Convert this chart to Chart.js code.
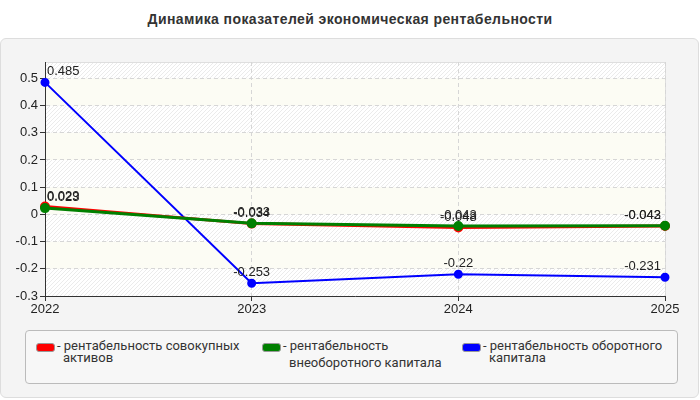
<!DOCTYPE html>
<html>
<head>
<meta charset="utf-8">
<script src="https://cdn.jsdelivr.net/npm/chart.js@4/dist/chart.umd.min.js"></script>
<style>
  body { margin:0; background:#fff; font-family:"Liberation Sans", Arial, sans-serif; }
  #wrap { position:relative; width:700px; height:400px; overflow:hidden; }
  #title { position:absolute; left:0; top:11px; width:700px; text-align:center; font-weight:bold; font-size:14px; letter-spacing:0.4px; color:#333; }
  #panel { position:absolute; left:0; top:38px; width:697px; height:358px; background:#f4f4f4; border:1px solid #ddd; border-radius:6px; }
  #chart { position:absolute; left:0; top:0; }
  #legend { position:absolute; left:25px; top:330px; width:651px; height:52px; border:1px solid #bbb; border-radius:4px; background:#f7f7f7; }
  .item { position:absolute; top:9px; font-family:Roboto, sans-serif; font-size:13px; color:#333; line-height:12px; }
  .sw { position:absolute; left:0; top:3px; width:17px; height:7px; border:1px solid #999; border-radius:3px; }
  .txt { position:absolute; left:21px; top:0; white-space:nowrap; }
</style>
</head>
<body>
<div id="wrap">
  <div id="title">Динамика показателей экономическая рентабельности</div>
  <div id="panel"></div>
  <canvas id="chart" width="700" height="400"></canvas>
  <div id="legend"></div>
</div>
<script>
// data
const years = ['2022', '2023', '2024', '2025'];
const totalAssets = [0.029, -0.034, -0.048, -0.043];
const fixedCapital = [0.023, -0.033, -0.043, -0.042];
const workingCapital = [0.485, -0.253, -0.22, -0.231];
const seriesNames = [
  ['- рентабельность совокупных', 'активов'],
  ['- рентабельность', 'внеоборотного капитала'],
  ['- рентабельность оборотного', 'капитала']
];
const seriesColors = ['#ff0000', '#008000', '#0000ff'];

// legend as html so the text can wrap like the original
const legendX = [10, 236, 436];
const legend = document.getElementById('legend');
seriesNames.forEach((lines, i) => {
  const d = document.createElement('div');
  d.className = 'item';
  d.style.left = legendX[i] + 'px';
  const second = i === 1
    ? '<span style="display:inline-block;margin-top:5px;margin-left:6px">' + lines[1] + '</span>'
    : '<span style="margin-left:6px">' + lines[1] + '</span>';
  d.innerHTML = '<div class="sw" style="background:' + seriesColors[i] + '"></div>' +
    '<div class="txt">' + lines[0] + '<br>' + second + '</div>';
  legend.appendChild(d);
});

function hatch() {
  const c = document.createElement('canvas');
  c.width = 4; c.height = 4;
  const g = c.getContext('2d');
  g.fillStyle = '#ffffff';
  g.fillRect(0, 0, 4, 4);
  g.strokeStyle = '#ebebeb';
  g.lineWidth = 1;
  g.beginPath();
  g.moveTo(0, 4); g.lineTo(4, 0);
  g.moveTo(-1, 1); g.lineTo(1, -1);
  g.moveTo(3, 5); g.lineTo(5, 3);
  g.stroke();
  return c;
}

// alternating bands: hatched / cream between the y grid lines
const bgPlugin = {
  id: 'bg',
  beforeDraw(chart) {
    const a = chart.chartArea, ctx = chart.ctx, y = chart.scales.y;
    const pat = ctx.createPattern(hatch(), 'repeat');
    const edges = [a.bottom, ...y.ticks.map(t => y.getPixelForValue(t.value)).filter(p => p < a.bottom - 1 && p > a.top + 1), a.top];
    ctx.save();
    for (let i = 0; i < edges.length - 1; i++) {
      ctx.fillStyle = i % 2 === 0 ? pat : '#fcfcf4';
      ctx.fillRect(a.left, edges[i + 1], a.right - a.left, edges[i] - edges[i + 1]);
    }
    ctx.strokeStyle = '#dedede';
    ctx.strokeRect(a.left + 0.5, a.top + 0.5, a.right - a.left, a.bottom - a.top);
    ctx.restore();
  }
};

const labelPlugin = {
  id: 'vals',
  afterDatasetsDraw(chart) {
    const ctx = chart.ctx, a = chart.chartArea;
    ctx.save();
    ctx.font = '13px "Liberation Sans", Arial, sans-serif';
    ctx.fillStyle = '#222';
    ctx.textBaseline = 'bottom';
    chart.data.datasets.forEach((ds, i) => {
      chart.getDatasetMeta(i).data.forEach((pt, j) => {
        const t = String(ds.data[j]);
        const w = ctx.measureText(t).width;
        let x = pt.x - w / 2;
        if (x < a.left + 2) x = a.left + 2;
        if (x + w > a.right - 4) x = a.right - 4 - w;
        ctx.fillText(t, x, pt.y - 4);
      });
    });
    ctx.restore();
  }
};

const mk = (label, data, color, w, order) => ({
  label, data, borderColor: color, backgroundColor: color, order,
  borderWidth: w, pointRadius: 3.5, pointHoverRadius: 3.5, tension: 0
});

const tickFont = { size: 13, family: '"Liberation Sans", Arial' };

new Chart(document.getElementById('chart'), {
  type: 'line',
  data: {
    labels: years,
    datasets: [
      mk('рентабельность совокупных активов', totalAssets, seriesColors[0], 3, 1),
      mk('рентабельность внеоборотного капитала', fixedCapital, seriesColors[1], 3, 0),
      mk('рентабельность оборотного капитала', workingCapital, seriesColors[2], 2, 2)
    ]
  },
  options: {
    responsive: false,
    animation: false,
    layout: { padding: { left: 0, top: 62, right: 35, bottom: 82 } },
    plugins: { legend: { display: false }, tooltip: { enabled: false } },
    scales: {
      x: {
        offset: false,
        grid: { color: '#d6d6d6', tickColor: '#333', tickLength: 5, tickBorderDash: [] },
        border: { color: '#333', dash: [4, 3] },
        ticks: { color: '#222', font: tickFont, padding: 1, maxRotation: 0 },
        afterFit(s) { s.height = 22; }
      },
      y: {
        min: -0.3, max: 0.56,
        grid: { color: '#d6d6d6', tickColor: '#333', tickLength: 5, tickBorderDash: [] },
        border: { color: '#333', dash: [4, 3] },
        ticks: { stepSize: 0.1, color: '#222', font: tickFont, padding: 2,
          callback: v => Math.round(v * 10) / 10 },
        afterBuildTicks(s) { s.ticks = s.ticks.filter(t => Math.abs(t.value * 10 - Math.round(t.value * 10)) < 1e-6); },
        afterFit(s) { s.width = 45; }
      }
    }
  },
  plugins: [bgPlugin, labelPlugin]
});
</script>
</body>
</html>
